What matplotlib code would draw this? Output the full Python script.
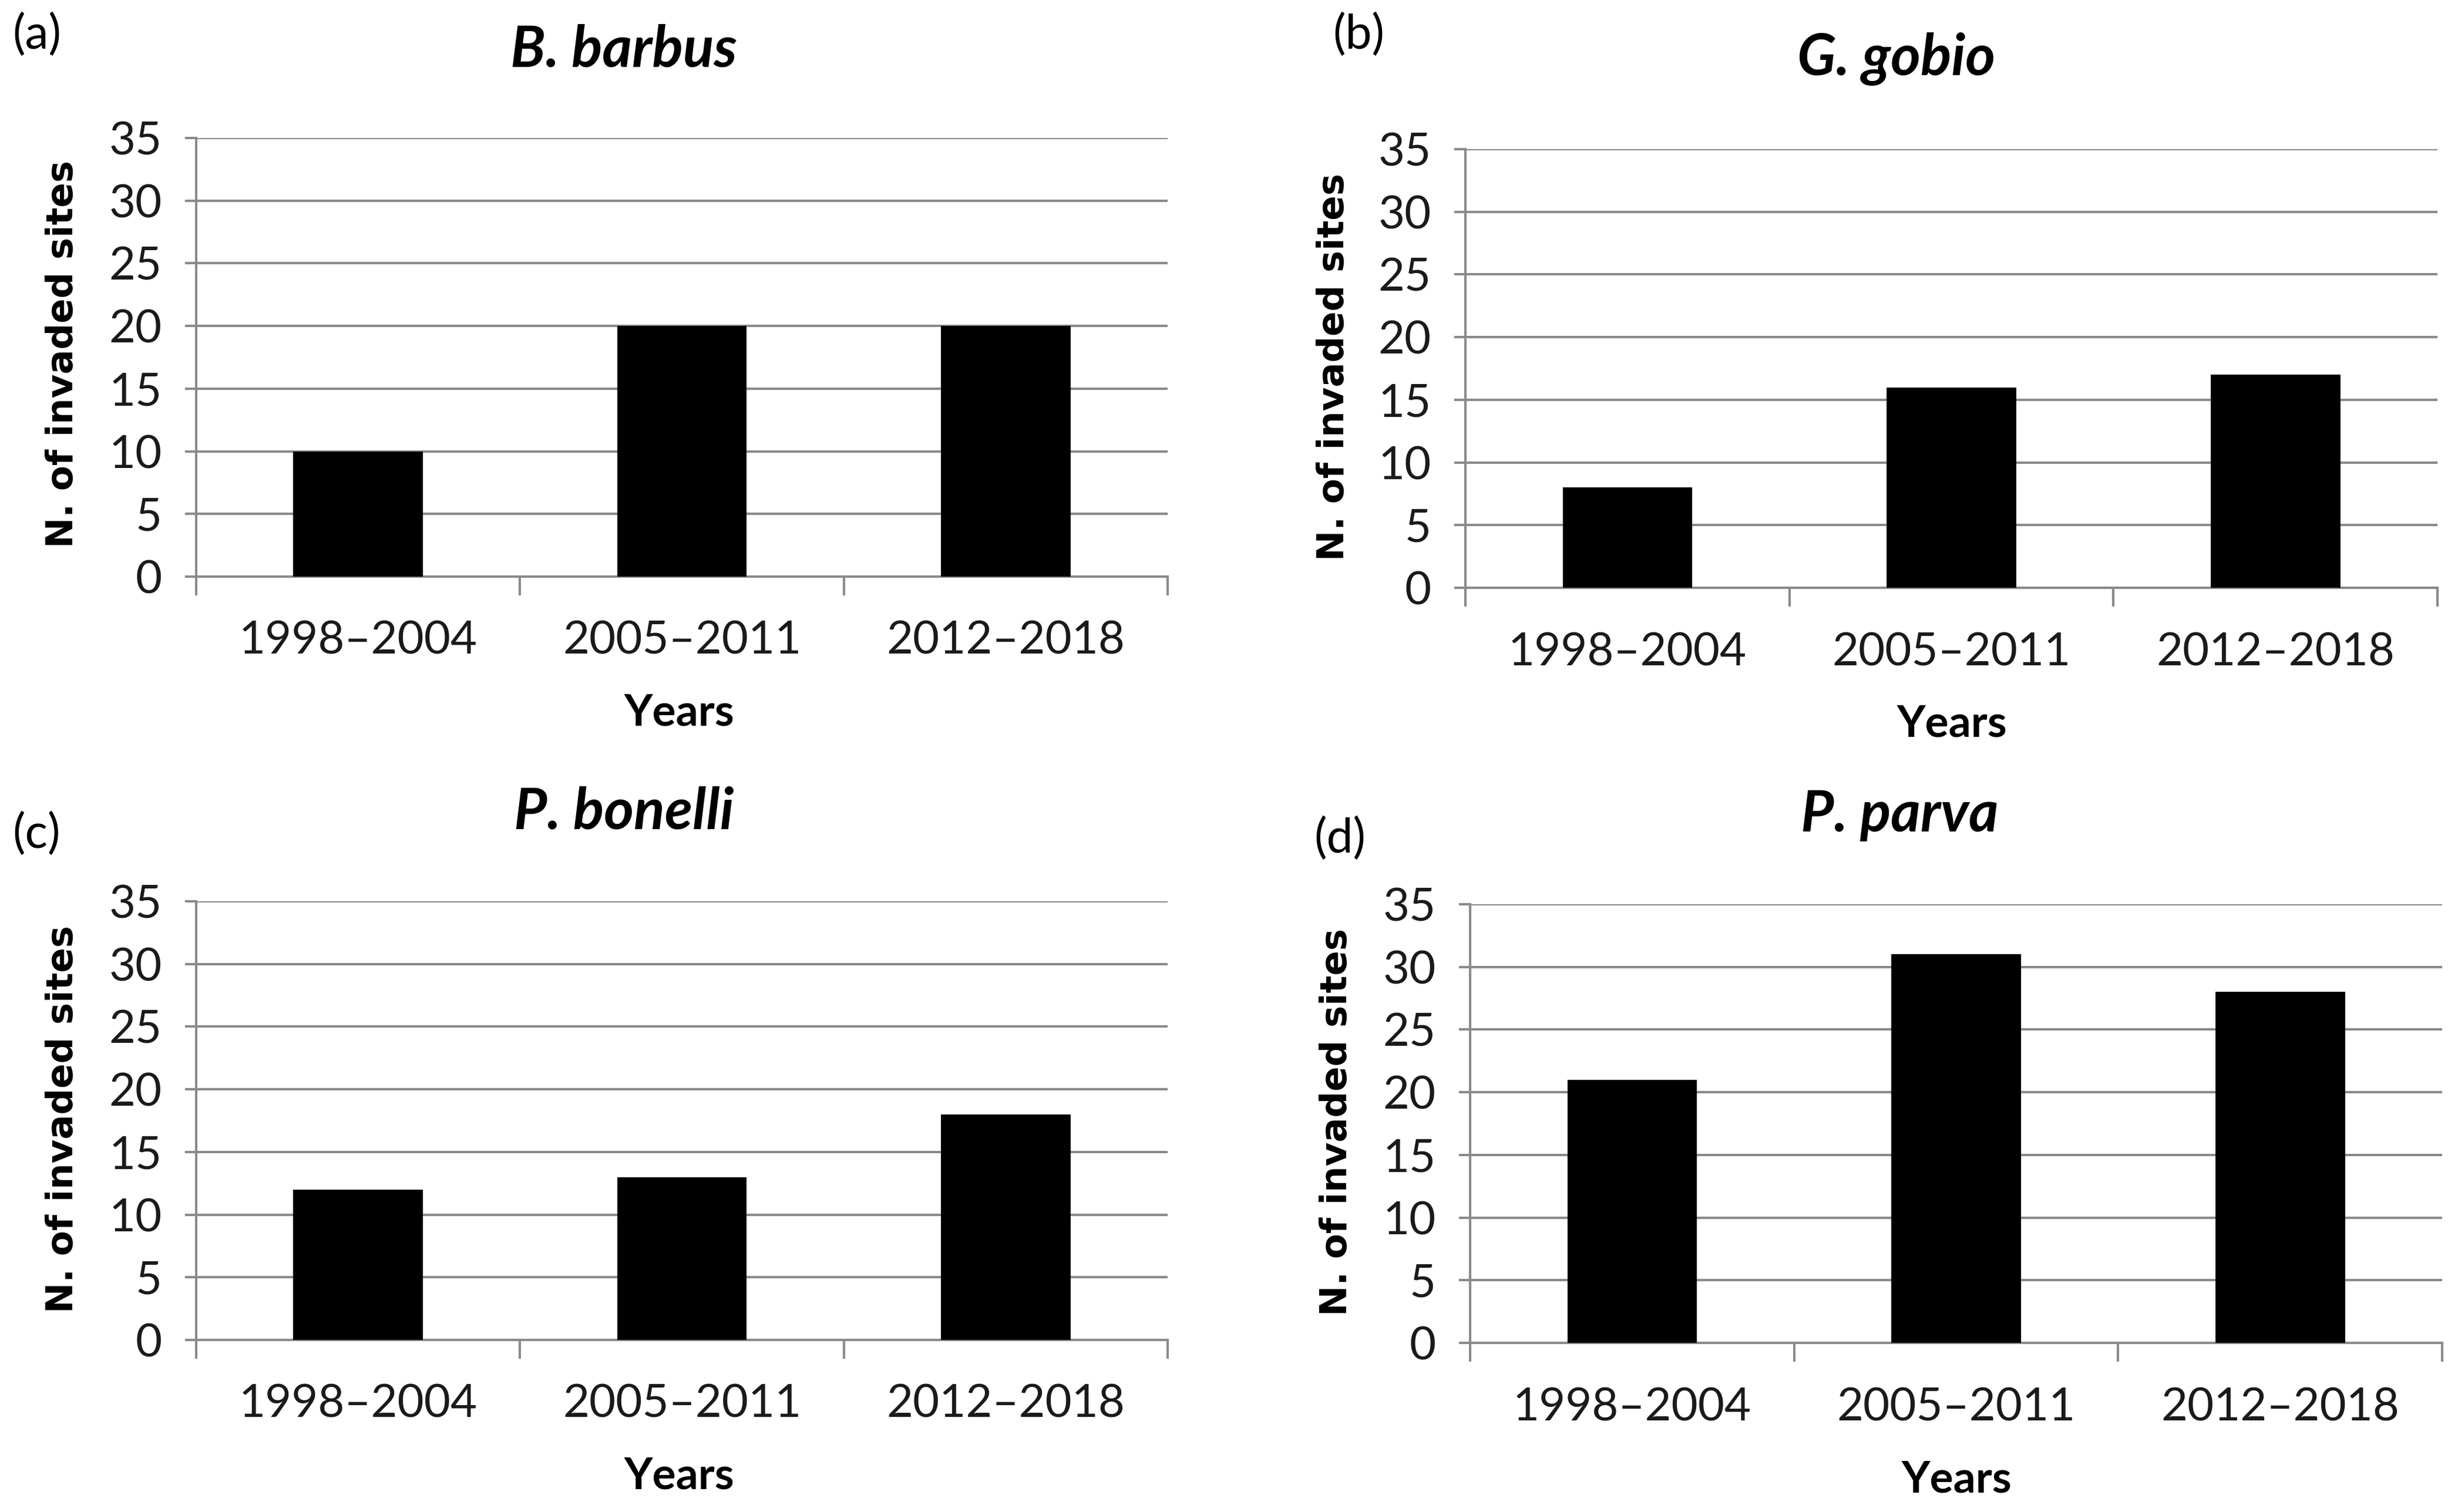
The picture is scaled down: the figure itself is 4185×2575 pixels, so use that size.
import matplotlib
matplotlib.use("Agg")
import matplotlib.pyplot as plt
import numpy as np

categories = ["1998\u20132004", "2005\u20132011", "2012\u20132018"]
barbus = [10, 20, 20]
gobio = [8, 16, 17]
bonelli = [12, 13, 18]
parva = [21, 31, 28]
titles = ["B. barbus", "G. gobio", "P. bonelli", "P. parva"]
panel_labels = ["(a)", "(b)", "(c)", "(d)"]
yticks = [0, 5, 10, 15, 20, 25, 30, 35]

W, H = 4185, 2575
fig = plt.figure(figsize=(W / 100, H / 100), dpi=100)

# axes boxes in pixels: left, right, top, bottom
boxes = [(334, 1988, 235, 982), (2495, 4150, 254, 1001),
         (334, 1988, 1535, 2282), (2503, 4158, 1540, 2287)]
label_pos = [(21, 59), (2269, 59), (21, 1420), (2237, 1428)]
title_pos = [(1062, 85), (3229, 101), (1062, 1383), (3234, 1388)]
years_pos = [(1156, 1214), (3323, 1233), (1156, 2514), (3331, 2520)]
ylab_pos = [(107, 603), (2271, 625), (107, 1906), (2276, 1911)]
series = [barbus, gobio, bonelli, parva]

grid_c = "#8a8a8a"
tick_font = "Lato"

for i in range(4):
    l, r, t, b = boxes[i]
    ax = fig.add_axes([l / W, 1 - b / H, (r - l) / W, (b - t) / H])
    x = np.arange(len(categories))
    ax.bar(x, series[i], width=0.4, color="black", zorder=3)
    ax.set_xlim(-0.5, 2.5)
    ax.set_ylim(0, 35)
    ax.set_yticks(yticks)
    ax.yaxis.grid(True, color=grid_c, linewidth=2.9, zorder=0)
    ax.set_axisbelow(True)
    for s in ["top", "right"]:
        ax.spines[s].set_visible(False)
    for s in ["left", "bottom"]:
        ax.spines[s].set_color(grid_c)
        ax.spines[s].set_linewidth(2.9)
    ax.set_xticks(x)
    ax.set_xticklabels(categories)
    ax.set_xticks([-0.5, 0.5, 1.5, 2.5], minor=True)
    ax.tick_params(axis="x", which="major", length=0, pad=54, labelsize=56)
    ax.tick_params(axis="x", which="minor", length=23, width=2.9, color=grid_c, direction="out")
    ax.tick_params(axis="y", which="major", length=14, width=2.9, color=grid_c, pad=28, labelsize=56)
    for lab in ax.get_xticklabels() + ax.get_yticklabels():
        lab.set_family(tick_font)
        lab.set_color("#1a1a1a")

    fig.text(label_pos[i][0] / W, 1 - label_pos[i][1] / H, panel_labels[i],
             family=tick_font, fontsize=58, ha="left", va="center")
    fig.text(title_pos[i][0] / W, 1 - title_pos[i][1] / H, titles[i],
             family=tick_font, fontsize=70, fontweight="bold", fontstyle="italic",
             ha="center", va="center")
    fig.text(years_pos[i][0] / W, 1 - years_pos[i][1] / H, "Years",
             family=tick_font, fontsize=54, fontweight="bold", ha="center", va="center")
    fig.text(ylab_pos[i][0] / W, 1 - ylab_pos[i][1] / H, "N. of invaded sites",
             family="DejaVu Sans", fontsize=45, fontweight="bold", rotation=90,
             ha="center", va="center")

fig.savefig("out.png", dpi=100, facecolor="white")
